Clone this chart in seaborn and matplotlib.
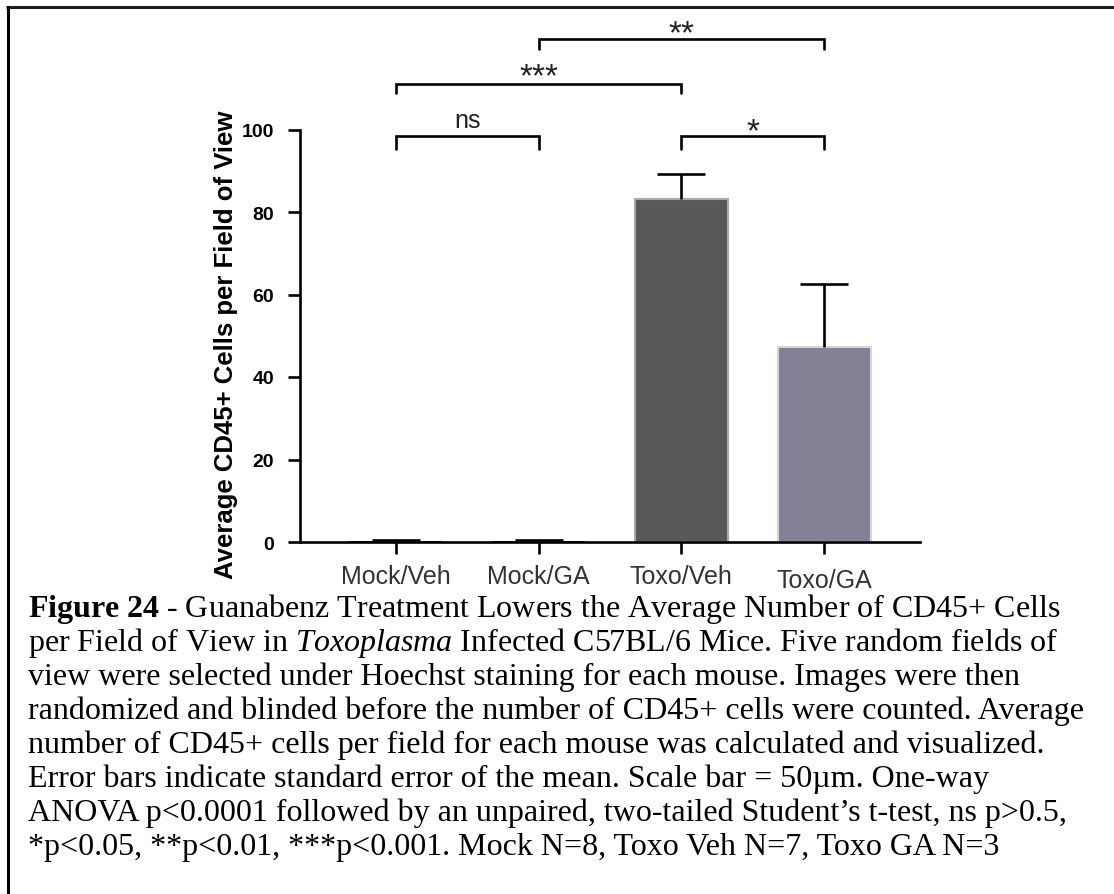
import numpy as np
import matplotlib
matplotlib.use("Agg")
import matplotlib.pyplot as plt
from matplotlib.lines import Line2D
from matplotlib.transforms import ScaledTranslation
import seaborn as sns

# --- data -------------------------------------------------------------
groups = ["Mock/Veh", "Mock/GA", "Toxo/Veh", "Toxo/GA"]
means = [0.15, 0.15, 83.2, 47.3]
sems = [0.45, 0.45, 6.1, 15.3]
y_ticks = [0, 20, 40, 60, 80, 100]

# significance brackets: (left group, right group, bracket top, leg bottom, label, label baseline)
brackets = [
    (0, 1, 98.5, 95.3, "ns", 100.6),
    (2, 3, 98.5, 95.3, "*", 97.4),
    (0, 2, 111.0, 108.8, "***", 110.7),
    (1, 3, 121.9, 119.5, "**", 121.2),
]

fill_colors = ["#161616", "#161616", "#58585b", "#858096"]
edge_colors = ["#161616", "#161616", "#a9a9a9", "#d6d6da"]
edge_widths = [0, 0, 1.5, 1.5]

caption_lines = [
    r"$\mathbf{Figure\ 24}$ - Guanabenz Treatment Lowers the Average Number of CD45+ Cells",
    r"per Field of View in $\mathit{Toxoplasma}$ Infected C57BL/6 Mice. Five random fields of",
    "view were selected under Hoechst staining for each mouse. Images were then",
    "randomized and blinded before the number of CD45+ cells were counted. Average",
    "number of CD45+ cells per field for each mouse was calculated and visualized.",
    "Error bars indicate standard error of the mean. Scale bar = 50\u00b5m. One-way",
    "ANOVA p<0.0001 followed by an unpaired, two-tailed Student\u2019s t-test, ns p>0.5,",
    "*p<0.05, **p<0.01, ***p<0.001. Mock N=8, Toxo Veh N=7, Toxo GA N=3",
]

# --- style -------------------------------------------------------------
sns.set_style("ticks")
plt.rcParams["font.family"] = ["Liberation Sans", "DejaVu Sans"]
plt.rcParams["mathtext.fontset"] = "custom"
plt.rcParams["mathtext.rm"] = "Liberation Serif"
plt.rcParams["mathtext.it"] = "Liberation Serif:italic"
plt.rcParams["mathtext.bf"] = "Liberation Serif:bold"

W, H = 1114, 895
fig = plt.figure(figsize=(W / 100, H / 100), dpi=100)
fig.patch.set_facecolor("white")

ax = fig.add_axes([300 / W, (H - 543) / H, 620 / W, 412.5 / H])
ax.set_facecolor("white")

sns.barplot(x=groups, y=means, hue=groups, palette=fill_colors, saturation=1,
            width=0.65, legend=False, ax=ax, errorbar=None)
for patch, ec, lw in zip(ax.patches, edge_colors, edge_widths):
    patch.set_edgecolor(ec)
    patch.set_linewidth(lw)

# one-sided SEM whiskers
eb = ax.errorbar(range(len(groups)), means, yerr=[np.zeros(len(sems)), sems],
                 fmt="none", ecolor="black", elinewidth=1.9, capsize=17, capthick=1.9,
                 zorder=1)
for cap in eb[1]:
    if np.allclose(cap.get_ydata(), means):
        cap.set_visible(False)

ax.set_xlim(-0.67, 3.67)
ax.set_ylim(0, 100)
ax.set_yticks(y_ticks)
ax.set_xlabel("")

for side in ["top", "right"]:
    ax.spines[side].set_visible(False)
for side in ["left", "bottom"]:
    ax.spines[side].set_linewidth(1.9)
    ax.spines[side].set_color("black")
    ax.spines[side].set_zorder(3)

ax.tick_params(axis="y", length=8.6, width=1.9, pad=10, labelsize=14, colors="black")
ax.tick_params(axis="x", length=8.6, width=1.9, pad=7, labelsize=18,
               labelcolor="#333333", color="black")
for lbl in ax.get_yticklabels():
    lbl.set_fontweight("bold")
xlabels = ax.get_xticklabels()
xlabels[3].set_transform(xlabels[3].get_transform() +
                         ScaledTranslation(0, -4 / 100, fig.dpi_scale_trans))

ax.set_ylabel("Average CD45+ Cells per Field of View", fontsize=18.5,
              fontweight="bold", color="black")
ax.yaxis.set_label_coords(-0.1, 0.48)

# significance brackets
for g1, g2, top, leg, label, ty in brackets:
    ax.plot([g1, g1, g2, g2], [leg, top, top, leg], color="black", lw=1.9,
            clip_on=False, solid_joinstyle="miter")
    size = 18 if label == "ns" else 24
    ax.text((g1 + g2) / 2, ty, label, ha="center", va="baseline",
            fontsize=size, color="#222222", clip_on=False)

# caption
for i, line in enumerate(caption_lines):
    fig.text(28 / W, 1 - (617 + 34 * i) / H, line, ha="left", va="baseline",
             fontsize=23, family=["Liberation Serif", "DejaVu Serif"], color="black")

# frame around the figure
fig.add_artist(Line2D([5.5 / W, 1], [1 - 7.5 / H] * 2, transform=fig.transFigure,
                      color="#1c1c1c", lw=2.2, solid_capstyle="butt"))
fig.add_artist(Line2D([7.5 / W] * 2, [0, 1 - 6.5 / H], transform=fig.transFigure,
                      color="black", lw=2.2, solid_capstyle="butt"))

fig.savefig("out.png", dpi=100)
